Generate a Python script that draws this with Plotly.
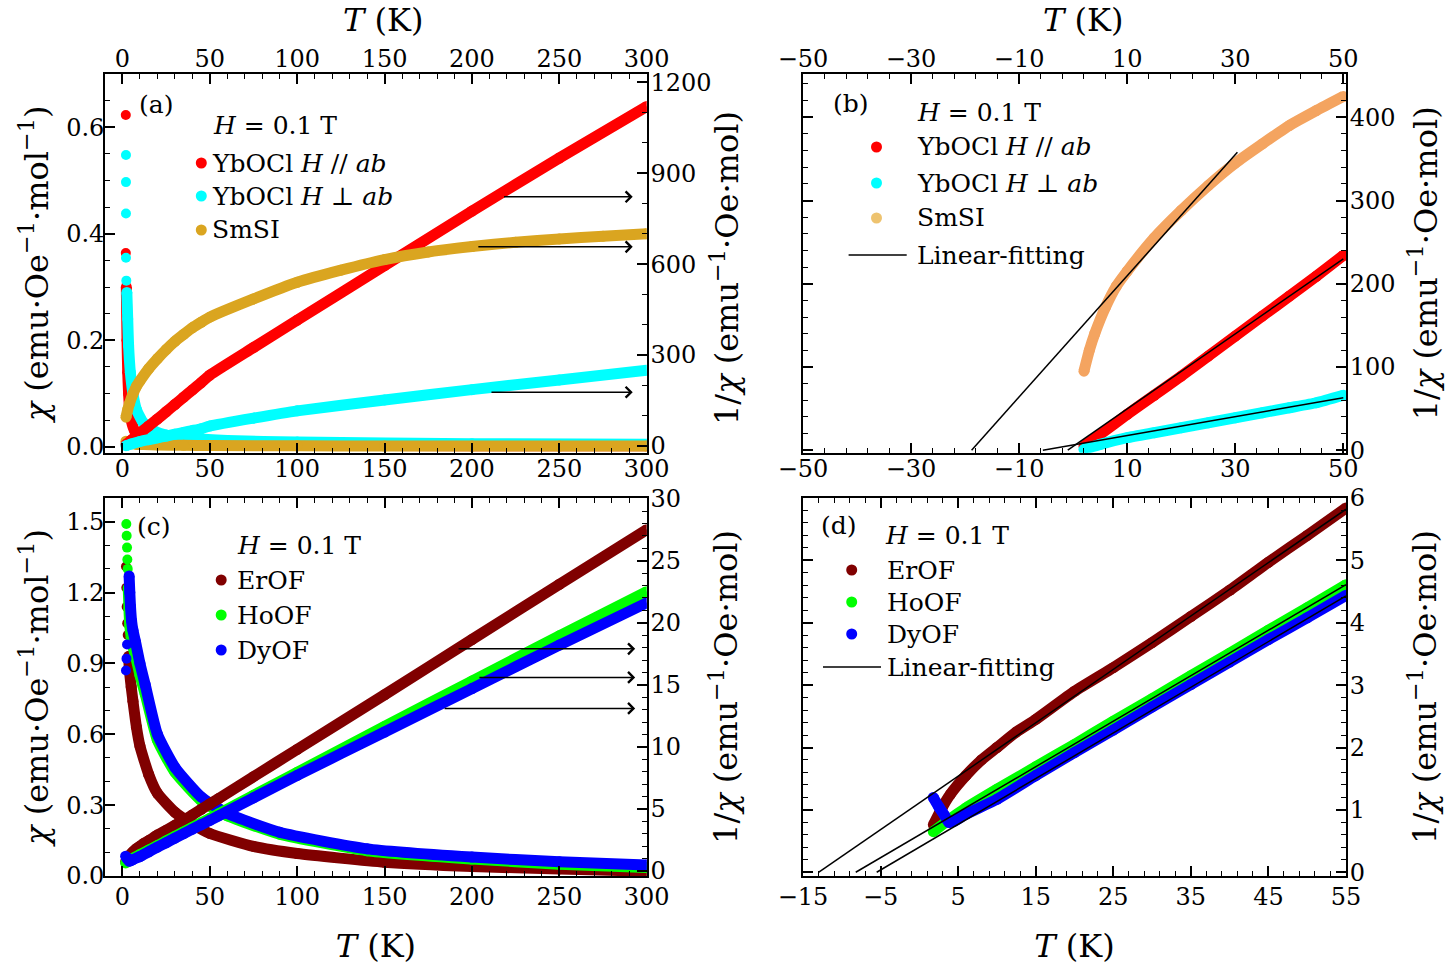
import plotly.graph_objects as go

W, H = 1450, 967
FONT = "DejaVu Serif"
TICK = 24
TITLE = 32
LEG = 25
LW = 11

# ---------------- data: panels (a) and (b) : YbOCl / SmSI ----------------
ybocl_T = [2, 5, 10, 15, 20, 25, 30, 35, 40, 45, 50, 75, 100, 150, 200, 250, 300]
ybocl_par_inv = [5, 19, 43, 66, 89, 113, 137, 161, 185, 209, 234, 325, 415, 595, 775, 950, 1120]
ybocl_perp_inv = [1, 7, 15, 21, 27, 33, 39, 45, 51, 57, 66, 92, 116, 152, 186, 218, 250]
smsi_T = [2, 3, 4, 6, 8, 10, 15, 20, 25, 30, 35, 40, 45, 50, 75, 100, 125, 150, 175,
          200, 225, 250, 275, 300]
smsi_inv = [95, 120, 140, 172, 197, 215, 255, 288, 318, 345, 368, 390, 408, 425, 485, 540,
            580, 615, 640, 658, 672, 683, 692, 700]

# susceptibility chi (left axis of (a))
par_chi_pts_T = [1.9, 1.9]
par_chi_pts = [0.623, 0.364]
par_chi_T = [2.2, 2.6, 3, 3.5, 4, 5, 7, 10, 15, 20, 30, 50, 100, 200, 300]
par_chi = [0.30, 0.20, 0.14, 0.10, 0.075, 0.05, 0.03, 0.02, 0.013, 0.010, 0.007, 0.004,
           0.003, 0.002, 0.002]
perp_chi_pts_T = [2, 2, 2, 2, 2.2]
perp_chi_pts = [0.548, 0.497, 0.438, 0.355, 0.312]
perp_chi_T = [2.5, 3, 3.5, 4.5, 6, 8, 12, 18, 25, 40, 60, 100, 200, 300]
perp_chi = [0.29, 0.24, 0.19, 0.14, 0.10, 0.07, 0.045, 0.03, 0.022, 0.016, 0.012, 0.009,
            0.006, 0.005]
smsi_chi_T = [2, 3, 5, 8, 12, 20, 35, 50, 100, 150, 200, 250, 300]
smsi_chi = [0.0105, 0.0083, 0.0065, 0.005, 0.0042, 0.0035, 0.0028, 0.0024, 0.0019, 0.0016,
            0.0015, 0.0015, 0.0014]

# linear fits in (b): [T_start, T_end], [1/chi_start, 1/chi_end]
fit_b_par_T, fit_b_par = [-1.0, 50], [0, 230]
fit_b_perp_T, fit_b_perp = [-5.6, 50], [0, 63]
fit_b_smsi_T, fit_b_smsi = [-18.8, 30.4], [0, 358]

# ---------------- data: panels (c) and (d) : ErOF / HoOF / DyOF ----------------
erof_T = [1.8, 3, 4, 6, 8, 10, 12.5, 15, 20, 25, 30, 35, 40, 45, 50, 55, 75, 100, 150, 200,
          250, 300]
erof_inv = [0.76, 1.05, 1.25, 1.55, 1.8, 2.0, 2.25, 2.45, 2.9, 3.28, 3.68, 4.1, 4.52, 4.97,
            5.4, 5.84, 7.6, 9.8, 14.2, 18.65, 23.1, 27.5]
hoof_T = [1.8, 4, 6, 10, 15, 20, 25, 30, 35, 40, 45, 50, 55, 75, 100, 150, 200, 250, 300]
hoof_inv = [0.65, 0.86, 1.03, 1.33, 1.69, 2.05, 2.42, 2.78, 3.15, 3.51, 3.88, 4.24, 4.61,
            6.1, 7.95, 11.65, 15.3, 18.95, 22.5]
dyof_T = [1.8, 2.5, 3.2, 3.8, 4.5, 6, 10, 15, 20, 25, 30, 35, 40, 45, 50, 55, 75, 100, 150,
          200, 250, 300]
dyof_inv = [1.2, 1.05, 0.92, 0.8, 0.82, 0.93, 1.17, 1.55, 1.92, 2.28, 2.65, 3.01, 3.37, 3.73,
            4.08, 4.44, 5.9, 7.7, 11.2, 14.7, 18.2, 21.6]

erof_chi_pts_T = [2.0, 2.2, 2.4, 2.7, 3.0]
erof_chi_pts = [1.31, 1.22, 1.14, 1.07, 1.02]
erof_chi_T = [3.5, 4, 5, 6, 8, 10, 15, 20, 30, 40, 50, 75, 100, 150, 200, 250, 300]
erof_chi = [0.93, 0.87, 0.80, 0.74, 0.63, 0.55, 0.43, 0.35, 0.27, 0.22, 0.18, 0.125, 0.095,
            0.058, 0.04, 0.03, 0.02]
hoof_chi_pts_T = [2.2, 2.4, 2.6, 2.8, 3.0]
hoof_chi_pts = [1.49, 1.44, 1.39, 1.34, 1.30]
hoof_chi_T = [3.3, 3.7, 4.2, 5, 6, 7.5, 10, 13, 20, 30, 45, 60, 90, 140, 200, 250, 300]
hoof_chi = [1.22, 1.13, 1.06, 1.01, 0.97, 0.93, 0.85, 0.77, 0.575, 0.44, 0.32, 0.255, 0.177,
            0.107, 0.072, 0.05, 0.036]
dyof_chi_pts_T = [2.0, 2.3, 2.6]
dyof_chi_pts = [0.87, 0.92, 0.98]
dyof_chi_T = [3.8, 4.2, 4.6, 5.2, 6, 7.5, 10, 13, 20, 30, 45, 60, 90, 140, 200, 250, 300]
dyof_chi = [1.27, 1.2, 1.14, 1.08, 1.04, 0.99, 0.9, 0.81, 0.6, 0.46, 0.335, 0.265, 0.185,
            0.115, 0.08, 0.06, 0.047]

# linear fits in (d)
fit_d_er_T, fit_d_er = [-13.0, 55], [0, 5.82]
fit_d_ho_T, fit_d_ho = [-8.2, 55], [0, 4.61]
fit_d_dy_T, fit_d_dy = [-5.5, 55], [0, 4.43]

# arrows (tail T, head T, 1/chi level)
arrows_a = [(217.5, 292, 822), (202.8, 292, 657), (210.3, 292, 177.5)]
arrows_c = [(191.5, 293.4, 17.9), (203.4, 293.4, 15.6), (183.5, 293.4, 13.1)]

RED, CYAN, GOLD, SANDY = "#ff0000", "#00ffff", "#daa520", "#f4a460"
MAROON, LIME, BLUE = "#800000", "#00ff00", "#0000ff"

# ---------------- geometry (pixels) ----------------
def px(x):
    return x / W


def py(y):
    return 1 - y / H


XA = [px(105), px(646.7)]
XB = [px(803), px(1346)]
YT = [py(452.7), py(74)]
YB = [py(876), py(498)]

fig = go.Figure()


def curve(T, v, color, xa, ya, name, width=LW):
    fig.add_trace(go.Scatter(
        x=T, y=v, mode="lines+markers", name=name, showlegend=False, hoverinfo="skip",
        line=dict(color=color, width=width, shape="spline", smoothing=0.5),
        marker=dict(color=color, size=width), xaxis=xa, yaxis=ya))


def dots(T, v, color, xa, ya, name, size=10):
    fig.add_trace(go.Scatter(
        x=T, y=v, mode="markers", name=name, showlegend=False, hoverinfo="skip",
        marker=dict(color=color, size=size), xaxis=xa, yaxis=ya))


def fitline(T, v, xa, ya, name):
    fig.add_trace(go.Scatter(
        x=T, y=v, mode="lines", name=name, showlegend=False, hoverinfo="skip",
        line=dict(color="black", width=1.5), xaxis=xa, yaxis=ya))


def upto(T, v, tmax):
    pairs = [(t, y) for t, y in zip(T, v) if t <= tmax]
    return [p[0] for p in pairs], [p[1] for p in pairs]


# ---- panel (a) ----
curve(par_chi_T, par_chi, RED, "x", "y", "YbOCl H//ab chi")
dots(par_chi_pts_T, par_chi_pts, RED, "x", "y", "YbOCl H//ab chi")
curve(perp_chi_T, perp_chi, CYAN, "x", "y", "YbOCl H⊥ab chi")
dots(perp_chi_pts_T, perp_chi_pts, CYAN, "x", "y", "YbOCl H⊥ab chi")
curve(smsi_chi_T, smsi_chi, GOLD, "x", "y", "SmSI chi")
curve(ybocl_T, ybocl_par_inv, RED, "x", "y5", "YbOCl H//ab 1/chi")
curve(ybocl_T, ybocl_perp_inv, CYAN, "x", "y5", "YbOCl H⊥ab 1/chi")
curve(smsi_T, smsi_inv, GOLD, "x", "y5", "SmSI 1/chi")
fig.add_trace(go.Scatter(x=[None], y=[None], xaxis="x5", yaxis="y", showlegend=False,
                         hoverinfo="skip"))

# ---- panel (b) ----
t, v = upto(smsi_T, smsi_inv, 50)
curve(t, v, SANDY, "x2", "y2", "SmSI 1/chi")
t, v = upto(ybocl_T, ybocl_par_inv, 50)
curve(t, v, RED, "x2", "y2", "YbOCl H//ab 1/chi")
t, v = upto(ybocl_T, ybocl_perp_inv, 50)
curve(t, v, CYAN, "x2", "y2", "YbOCl H⊥ab 1/chi")
fitline(fit_b_smsi_T, fit_b_smsi, "x2", "y2", "Linear-fitting")
fitline(fit_b_par_T, fit_b_par, "x2", "y2", "Linear-fitting")
fitline(fit_b_perp_T, fit_b_perp, "x2", "y2", "Linear-fitting")
fig.add_trace(go.Scatter(x=[None], y=[None], xaxis="x6", yaxis="y2", showlegend=False,
                         hoverinfo="skip"))

# ---- panel (c) ----
curve(erof_chi_T, erof_chi, MAROON, "x3", "y3", "ErOF chi")
dots(erof_chi_pts_T, erof_chi_pts, MAROON, "x3", "y3", "ErOF chi")
curve(hoof_chi_T, hoof_chi, LIME, "x3", "y3", "HoOF chi")
dots(hoof_chi_pts_T, hoof_chi_pts, LIME, "x3", "y3", "HoOF chi")
curve(dyof_chi_T, dyof_chi, BLUE, "x3", "y3", "DyOF chi")
dots(dyof_chi_pts_T, dyof_chi_pts, BLUE, "x3", "y3", "DyOF chi")
curve(erof_T, erof_inv, MAROON, "x3", "y7", "ErOF 1/chi")
curve(hoof_T, hoof_inv, LIME, "x3", "y7", "HoOF 1/chi")
curve(dyof_T, dyof_inv, BLUE, "x3", "y7", "DyOF 1/chi")

# ---- panel (d) ----
t, v = upto(erof_T, erof_inv, 55)
curve(t, v, MAROON, "x4", "y4", "ErOF 1/chi")
t, v = upto(hoof_T, hoof_inv, 55)
curve(t, v, LIME, "x4", "y4", "HoOF 1/chi")
t, v = upto(dyof_T, dyof_inv, 55)
curve(t, v, BLUE, "x4", "y4", "DyOF 1/chi")
fitline(fit_d_er_T, fit_d_er, "x4", "y4", "Linear-fitting")
fitline(fit_d_ho_T, fit_d_ho, "x4", "y4", "Linear-fitting")
fitline(fit_d_dy_T, fit_d_dy, "x4", "y4", "Linear-fitting")

# ---------------- axes ----------------
tf = dict(family=FONT, size=TICK, color="black")
ttl = dict(family=FONT, size=TITLE, color="black")


def ax(**kw):
    base = dict(ticks="inside", ticklen=10, tickwidth=1.5, tickcolor="black",
                showline=True, linecolor="black", linewidth=1.8, showgrid=False,
                zeroline=False, tickfont=tf, automargin=False)
    base.update(kw)
    return base


def mnr(d, t0=0):
    return dict(ticks="inside", ticklen=5, tickwidth=1.2, tickcolor="black", dtick=d,
                tick0=t0, showgrid=False)


TT = "<i>T</i> (K)"
CHI = "<i>χ</i> (emu·Oe<sup>−1</sup>·mol<sup>−1</sup>)"
INV = "1/<i>χ</i> (emu<sup>−1</sup>·Oe·mol)"

fig.update_layout(
    width=W, height=H, margin=dict(l=0, r=0, t=0, b=0),
    paper_bgcolor="white", plot_bgcolor="white", showlegend=False,
    font=dict(family=FONT, color="black"),
    # (a)
    xaxis=ax(domain=XA, anchor="y", range=[-10, 300], tick0=0, dtick=50, minor=mnr(10),
             ticklabelstandoff=-6),
    xaxis5=ax(overlaying="x", side="top", anchor="y", range=[-10, 300], tick0=0, dtick=50,
              minor=mnr(10), ticklabelstandoff=-4),
    yaxis=ax(domain=YT, anchor="x", range=[-0.011, 0.70], tick0=0, dtick=0.2,
             tickformat=".1f", minor=mnr(0.05), ticklabelstandoff=-6,
             title=dict(text=CHI, font=ttl, standoff=8)),
    yaxis5=ax(overlaying="y", side="right", anchor="x", range=[-22, 1227], tick0=0,
              dtick=300, minor=mnr(100), ticklabelstandoff=-3),
    # (b)
    xaxis2=ax(domain=XB, anchor="y2", range=[-50, 50.5], tick0=-50, dtick=20,
              minor=mnr(4, -50), ticklabelstandoff=-6),
    xaxis6=ax(overlaying="x2", side="top", anchor="y2", range=[-50, 50.5], tick0=-50,
              dtick=20, minor=mnr(4, -50), ticklabelstandoff=-4),
    yaxis2=ax(domain=YT, anchor="x2", side="right", mirror="ticks", range=[-3, 452],
              tick0=0, dtick=100, minor=mnr(20), ticklabelstandoff=-3,
              title=dict(text=INV, font=ttl, standoff=20)),
    # (c)
    xaxis3=ax(domain=XA, anchor="y3", mirror="ticks", range=[-10, 300], tick0=0, dtick=50,
              minor=mnr(10), ticklabelstandoff=-2,
              title=dict(text=TT, font=ttl, standoff=25)),
    yaxis3=ax(domain=YB, anchor="x3", range=[0, 1.6], tick0=0, dtick=0.3,
              tickformat=".1f", minor=mnr(0.1), ticklabelstandoff=-6,
              title=dict(text=CHI, font=ttl, standoff=8)),
    yaxis7=ax(overlaying="y3", side="right", anchor="x3", range=[-0.4, 30.05], tick0=0,
              dtick=5, minor=mnr(1), ticklabelstandoff=-3,
              title=dict(text=INV, font=ttl, standoff=35)),
    # (d)
    xaxis4=ax(domain=XB, anchor="y4", mirror="ticks", range=[-15, 55], tick0=-15, dtick=10,
              minor=mnr(2, -15), ticklabelstandoff=-2,
              title=dict(text=TT, font=ttl, standoff=25)),
    yaxis4=ax(domain=YB, anchor="x4", side="right", mirror="ticks", range=[-0.06, 6],
              tick0=0, dtick=1, minor=mnr(0.2), ticklabelstandoff=-3,
              title=dict(text=INV, font=ttl, standoff=50)),
)

# ---------------- annotations: titles, panel labels, legends, arrows ----------------
ann = []
shapes = []


def text(x, y, s, anchor="left", size=LEG, angle=0):
    ann.append(dict(x=px(x), y=py(y), xref="paper", yref="paper", text=s, showarrow=False,
                    xanchor=anchor, yanchor="middle", textangle=angle,
                    font=dict(family=FONT, size=size, color="black")))


def dot(x, y, color, r=5.5):
    shapes.append(dict(type="circle", xref="paper", yref="paper", xsizemode="pixel",
                       ysizemode="pixel", xanchor=px(x), yanchor=py(y), x0=-r, x1=r,
                       y0=-r, y1=r, fillcolor=color, line=dict(width=0)))


def seg(x0, x1, y):
    shapes.append(dict(type="line", xref="paper", yref="paper", x0=px(x0), x1=px(x1),
                       y0=py(y), y1=py(y), line=dict(color="black", width=1.5)))


# top axis titles and right title of (a)
text(383, 20, TT, "center", TITLE)
text(1083, 20, TT, "center", TITLE)
text(725, 268, INV, "center", TITLE, -90)

HT = "<i>H</i> = 0.1 T"
# (a)
text(156, 104, "(a)", "center")
text(211, 126, HT)
for (yy, c, s) in [(163, RED, "YbOCl <i>H</i> // <i>ab</i>"),
                   (196, CYAN, "YbOCl <i>H</i> ⊥ <i>ab</i>"),
                   (230, GOLD, "SmSI")]:
    dot(201.3, yy, c)
    text(210, yy, s)
# (b)
text(851, 103, "(b)", "center")
text(915, 112, HT)
for (yy, c, s) in [(147, RED, "YbOCl <i>H</i> // <i>ab</i>"),
                   (183, CYAN, "YbOCl <i>H</i> ⊥ <i>ab</i>"),
                   (218, "#eec36f", "SmSI")]:
    dot(876.5, yy, c)
    text(915, yy, s)
seg(848.6, 906.7, 255)
text(915, 255, "Linear-fitting")
# (c)
text(154, 526, "(c)", "center")
text(235, 545, HT)
for (yy, c, s) in [(580, MAROON, "ErOF"), (615, LIME, "HoOF"), (650, BLUE, "DyOF")]:
    dot(221.2, yy, c)
    text(235, yy, s)
# (d)
text(839, 525, "(d)", "center")
text(883, 535, HT)
for (yy, c, s) in [(570, MAROON, "ErOF"), (602, LIME, "HoOF"), (634, BLUE, "DyOF")]:
    dot(851.7, yy, c)
    text(885, yy, s)
seg(823, 881, 667)
text(885, 667, "Linear-fitting")

for (t0, t1, lev) in arrows_a:
    ann.append(dict(x=t1, y=lev, xref="x", yref="y5", ax=t0, ay=lev, axref="x", ayref="y5",
                    text="", showarrow=True, arrowhead=4, arrowsize=1.4, arrowwidth=1.5,
                    arrowcolor="black"))
for (t0, t1, lev) in arrows_c:
    ann.append(dict(x=t1, y=lev, xref="x3", yref="y7", ax=t0, ay=lev, axref="x3",
                    ayref="y7", text="", showarrow=True, arrowhead=4, arrowsize=1.4,
                    arrowwidth=1.5, arrowcolor="black"))

fig.update_layout(annotations=ann, shapes=shapes)
fig.write_html("out.html", config={"displayModeBar": False},
               post_script="document.body.style.margin='0';"
                           "document.body.style.overflow='hidden';")
